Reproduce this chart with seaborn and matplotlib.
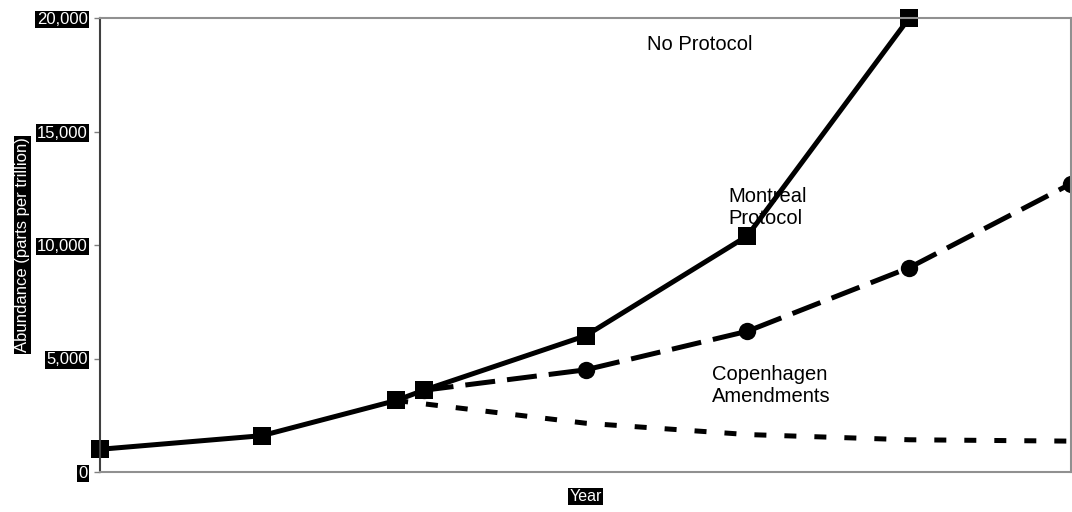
import matplotlib
matplotlib.use("Agg")
import matplotlib.pyplot as plt
import seaborn as sns

# chart values
no_protocol_years = [1950, 1960, 1968.3, 1970, 1980, 1990, 2000]
no_protocol_ppt = [1000, 1600, 3150, 3600, 6000, 10400, 20000]

montreal_years = [1970, 1980, 1990, 2000, 2010]
montreal_ppt = [3600, 4500, 6200, 9000, 12700]

copenhagen_years = [1968.3, 1980, 1990, 2000, 2010]
copenhagen_ppt = [3150, 2150, 1650, 1420, 1360]

y_ticks = [0, 5000, 10000, 15000, 20000]

sns.set_style("white")
plt.rcParams['font.family'] = ['Liberation Sans', 'DejaVu Sans']
plt.rcParams['text.color'] = 'black'

fig = plt.figure(figsize=(10.72, 5.12), dpi=100)
ax = fig.add_axes([100 / 1072, 40 / 512, 971 / 1072, 454 / 512])

lw = 3.6
sns.lineplot(x=no_protocol_years, y=no_protocol_ppt, ax=ax, color='black',
             linewidth=lw, marker='s', markersize=12.5, mec='black', mew=0,
             clip_on=False)
sns.lineplot(x=montreal_years, y=montreal_ppt, ax=ax, color='black',
             linewidth=lw, linestyle=(0, (6, 2.4)), marker='o', markersize=12.5,
             mec='black', mew=0, clip_on=False)
sns.lineplot(x=copenhagen_years, y=copenhagen_ppt, ax=ax, color='black',
             linewidth=lw, linestyle=(0, (2.4, 3.6)), clip_on=False)

# redraw the squares over the other lines
sns.lineplot(x=no_protocol_years[2:4], y=no_protocol_ppt[2:4], ax=ax, color='black',
             linewidth=0, marker='s', markersize=12.5, mec='black', mew=0,
             clip_on=False)

ax.set_xlim(1950, 2010)
ax.set_ylim(0, 20000)
ax.set_xticks([])
ax.set_yticks(y_ticks)
ax.set_yticklabels([f"{v:,}" for v in y_ticks], fontsize=12, color='white')
for lab in ax.get_yticklabels():
    lab.set_bbox(dict(facecolor='black', edgecolor='none', pad=0.8))
ax.tick_params(axis='y', direction='out', length=4, width=1, color='#808080', pad=5, left=True)

for side in ['top', 'right', 'bottom']:
    ax.spines[side].set_color('#909090')
    ax.spines[side].set_linewidth(1.5)
ax.spines['left'].set_color('#404040')
ax.spines['left'].set_linewidth(1.5)

ax.set_ylabel("Abundance (parts per trillion)", fontsize=12, color='white',
              bbox=dict(facecolor='black', edgecolor='none', pad=0.8), labelpad=5)
ax.set_xlabel("Year", fontsize=11.5, color='white',
              bbox=dict(facecolor='black', edgecolor='none', pad=0.8), labelpad=12)

ax.text(1983.8, 18850, "No Protocol", fontsize=14.5, va='center', ha='left')
ax.text(1988.8, 11670, "Montreal\nProtocol", fontsize=14.5, va='center', ha='left',
        linespacing=1.2)
ax.text(1987.8, 3790, "Copenhagen\nAmendments", fontsize=14.5, va='center', ha='left',
        linespacing=1.2)

fig.savefig("out.png", dpi=100)
